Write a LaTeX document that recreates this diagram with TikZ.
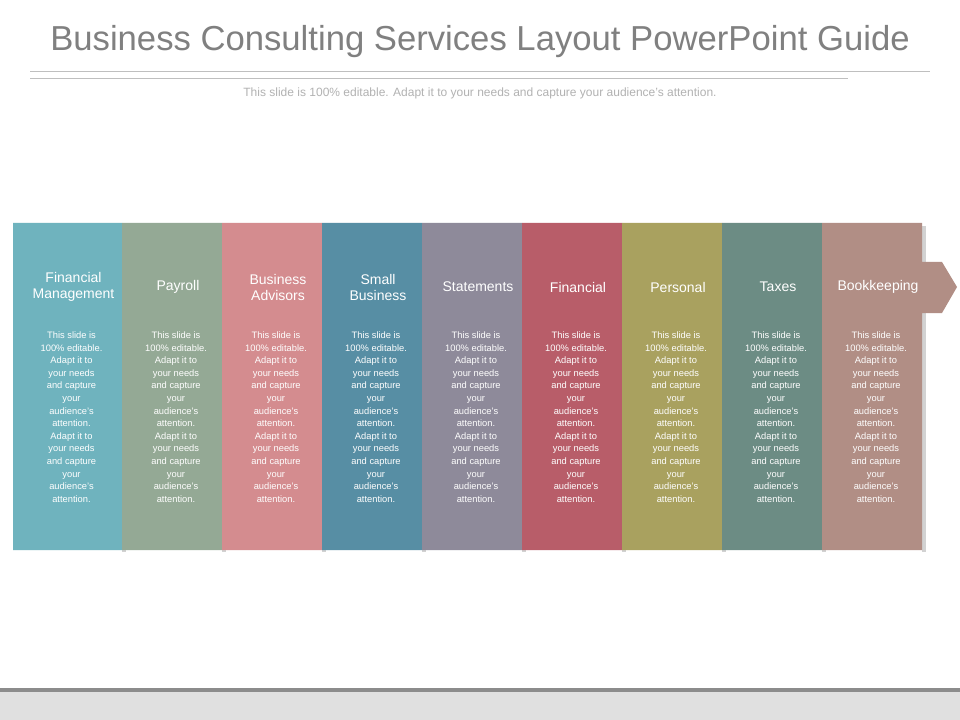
\documentclass[tikz,border=0pt]{standalone}
\usepackage{fontspec}
\setmainfont{Liberation Sans}
\usetikzlibrary{positioning}

\definecolor{cA}{HTML}{6FB3BE}
\definecolor{cB}{HTML}{94A995}
\definecolor{cC}{HTML}{D48C8F}
\definecolor{cD}{HTML}{578EA4}
\definecolor{cE}{HTML}{8E8A9A}
\definecolor{cF}{HTML}{B85D69}
\definecolor{cG}{HTML}{A9A15F}
\definecolor{cH}{HTML}{6C8C84}
\definecolor{cI}{HTML}{B18E85}

\begin{document}
\begin{tikzpicture}[x=0.75pt,y=-0.75pt]

    %
    % Styles for columns and texts
    %
    \tikzstyle{heading} = [text=white, align=center, font={\fontsize{10.5}{12}\selectfont}];
    \tikzstyle{body} = [text=white, align=center, font={\fontsize{7}{9.45}\selectfont}];

    \useasboundingbox (0,0) rectangle (960,720);
    \fill[white] (0,0) rectangle (960,720);

    %
    % Title area
    %
    \node[name=title, text=black!50, font={\fontsize{26}{30}\selectfont}] at (480,42)
      {Business Consulting Services Layout PowerPoint Guide};
    \draw[black!25] (30,71) -- (930,71);
    \draw[black!25] (30,78) -- (848,78);
    \node[name=subtitle, text=black!30, font={\fontsize{9}{11}\selectfont}] at (480,93)
      {This slide is 100\% editable. Adapt it to your needs and capture your audience's attention.};

    %
    % Columns with chevron tabs
    %
    \foreach \i/\c/\lbl in {0/cA/{Financial\\Management}, 1/cB/Payroll, 2/cC/{Business\\Advisors},
                            3/cD/{Small\\Business}, 4/cE/Statements, 5/cF/Financial,
                            6/cG/Personal, 7/cH/Taxes, 8/cI/Bookkeeping} {
      \pgfmathsetmacro{\xl}{\i==0 ? 13 : 22+100*\i}
      \pgfmathsetmacro{\xr}{122+100*\i}
      \fill[black!35, opacity=0.5] (\xr,226) rectangle (\xr+4,552);
      \fill[\c] (\xl,223) -- (\xr,223) -- (\xr,262) -- (\xr+20,262) -- (\xr+35,287)
        -- (\xr+20,313) -- (\xr,313) -- (\xr,550) -- (\xl,550) -- cycle;
      \node[heading, name=head\i] at ({(\xl+\xr)/2+6},287) {\lbl};
      \node[body, name=text\i, anchor=north] at ({(\xl+\xr)/2+4},327)
        {This slide is\\100\% editable.\\Adapt it to\\your needs\\and capture\\your\\audience's\\attention.\\Adapt it to\\your needs\\and capture\\your\\audience's\\attention.};
    }

    %
    % Footer bar
    %
    \fill[black!12] (0,690) rectangle (960,720);
    \fill[black!45] (0,688) rectangle (960,692);
  \end{tikzpicture}
\end{document}
